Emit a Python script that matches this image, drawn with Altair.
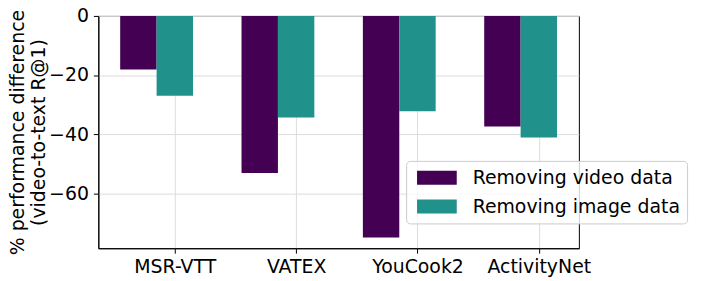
import altair as alt
import pandas as pd

categories = ["MSR-VTT", "VATEX", "YouCook2", "ActivityNet"]
series_names = ["Removing video data", "Removing image data"]
video_drop = [-18.1, -53.2, -75.0, -37.4]
image_drop = [-27.0, -34.4, -32.3, -41.2]
colors = ["#440154", "#21918c"]
y_ticks = [0, -20, -40, -60]

rows = []
for i, c in enumerate(categories):
    rows.append({"idx": i, "cat": c, "series": series_names[0], "offset": -0.3, "value": video_drop[i]})
    rows.append({"idx": i, "cat": c, "series": series_names[1], "offset": 0.0, "value": image_drop[i]})
df = pd.DataFrame(rows)

label_expr = "[" + ",".join(f"'{c}'" for c in categories) + "][datum.value]"

FONT = "DejaVu Sans"
FS = 19
H = 234

base = alt.Chart(df).transform_calculate(
    xa="datum.idx + datum.offset - 0.15",
    xb="datum.idx + datum.offset + 0.15",
)

bars = base.mark_bar(stroke=None).encode(
    x=alt.X("xa:Q",
            scale=alt.Scale(domain=[-0.63, 3.33], nice=False, zero=False),
            axis=alt.Axis(values=[0, 1, 2, 3], labelExpr=label_expr, title=None,
                          grid=True, tickSize=5, labelPadding=4)),
    x2="xb:Q",
    y=alt.Y("value:Q",
            scale=alt.Scale(domain=[-78.65, 0], nice=False, zero=False),
            axis=alt.Axis(values=y_ticks, title=["% performance difference", "(video-to-text R@1)"],
                          grid=True, tickSize=5, labelPadding=5,
                          titleX=-71, titleY=H / 2, titleAngle=270, titleBaseline="bottom",
                          titleAlign="center", titleLineHeight=21)),
    y2=alt.datum(0),
    color=alt.Color("series:N",
                    scale=alt.Scale(domain=series_names, range=colors),
                    sort=series_names,
                    legend=alt.Legend(title=None, orient="none", legendX=310, legendY=146,
                                      symbolType="M-2,-0.7L2,-0.7L2,0.7L-2,0.7Z",
                                      symbolSize=400, symbolStrokeWidth=0, symbolOffset=14,
                                      labelFontSize=FS, labelFont=FONT, labelColor="black",
                                      labelLimit=0,
                                      labelOffset=26, rowPadding=9, padding=7,
                                      fillColor="rgba(255,255,255,0.8)", strokeColor="#cccccc",
                                      cornerRadius=4)),
)

chart = bars.properties(
    width=484, height=H,
    autosize=alt.AutoSizeParams(type="none"),
    padding={"left": 91, "top": 7, "right": 120, "bottom": 30},
).configure_axis(
    labelFont=FONT, labelFontSize=FS, labelColor="black",
    titleFont=FONT, titleFontSize=FS, titleColor="black", titleFontWeight="normal",
    gridColor="#dcdcdc", gridWidth=1, domainColor="black", tickColor="black",
    zindex=1, labelFlush=False,
).configure_view(
    stroke="black", strokeWidth=1,
)

chart.save("out.html", embed_options={"renderer": "svg", "actions": False})
